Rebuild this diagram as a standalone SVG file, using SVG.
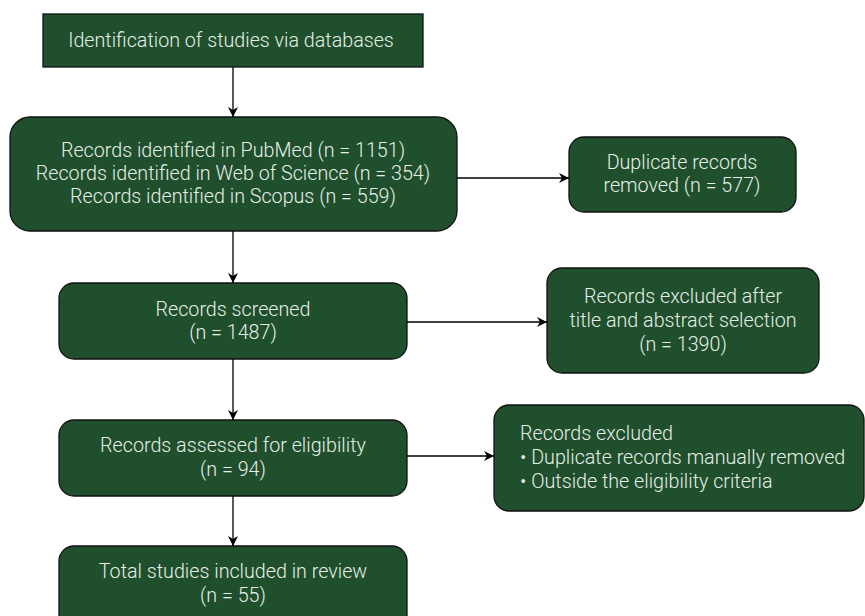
<svg xmlns="http://www.w3.org/2000/svg" width="865" height="616" viewBox="0 0 865 616">
<style>
.box{fill:#1f4f2d;stroke:#111;stroke-width:1.3}
.t{font-family:"Roboto Light",Roboto,"Liberation Sans",sans-serif;font-weight:300;font-size:19.7px;fill:#e6eee6;text-anchor:middle;dominant-baseline:central}
.l{text-anchor:start}
.c{stroke:#000;stroke-width:1.3;fill:none;marker-end:url(#ah)}
</style>
<defs>
<marker id="ah" viewBox="0 0 10 10" refX="10" refY="5" markerWidth="10" markerHeight="10" markerUnits="userSpaceOnUse" orient="auto">
<path d="M0,0 L10,5 L0,10 L3,5 z" fill="#000"/>
</marker>
</defs>
<rect width="865" height="616" fill="#fff"/>
<g id="n1"><rect class="box" x="43" y="14" width="380" height="53"/><text class="t" x="231" y="40">Identification of studies via databases</text></g>
<g id="n2"><rect class="box" x="10" y="117" width="447" height="114" rx="20"/>
<text class="t" x="233" y="150">Records identified in PubMed (n = 1151)</text>
<text class="t" x="233" y="173">Records identified in Web of Science (n = 354)</text>
<text class="t" x="233" y="196">Records identified in Scopus (n = 559)</text></g>
<g id="n3"><rect class="box" x="569" y="137" width="227" height="75" rx="15"/>
<text class="t" x="682" y="162">Duplicate records</text>
<text class="t" x="682" y="185">removed (n = 577)</text></g>
<g id="n4"><rect class="box" x="59" y="283" width="348" height="76" rx="15"/>
<text class="t" x="233" y="309">Records screened</text>
<text class="t" x="233" y="332">(n = 1487)</text></g>
<g id="n5"><rect class="box" x="547" y="268" width="272" height="105" rx="15"/>
<text class="t" x="683" y="296">Records excluded after</text>
<text class="t" x="683" y="320">title and abstract selection</text>
<text class="t" x="683" y="344">(n = 1390)</text></g>
<g id="n6"><rect class="box" x="59" y="420" width="348" height="76" rx="15"/>
<text class="t" x="233" y="445">Records assessed for eligibility</text>
<text class="t" x="233" y="469">(n = 94)</text></g>
<g id="n7"><rect class="box" x="494" y="405" width="370" height="106" rx="15"/>
<text class="t l" x="520" y="433">Records excluded</text>
<text class="t l" x="520" y="457">• Duplicate records manually removed</text>
<text class="t l" x="520" y="481">• Outside the eligibility criteria</text></g>
<g id="n8"><rect class="box" x="59" y="546" width="348" height="85" rx="15"/>
<text class="t" x="233" y="571">Total studies included in review</text>
<text class="t" x="233" y="595">(n = 55)</text></g>
<g id="connectors">
<path class="c" d="M233,67 V117"/>
<path class="c" d="M457,178 H569"/>
<path class="c" d="M233,231 V283"/>
<path class="c" d="M407,322 H547"/>
<path class="c" d="M233,359 V420"/>
<path class="c" d="M407,456 H494"/>
<path class="c" d="M233,496 V546"/>
</g>
</svg>
